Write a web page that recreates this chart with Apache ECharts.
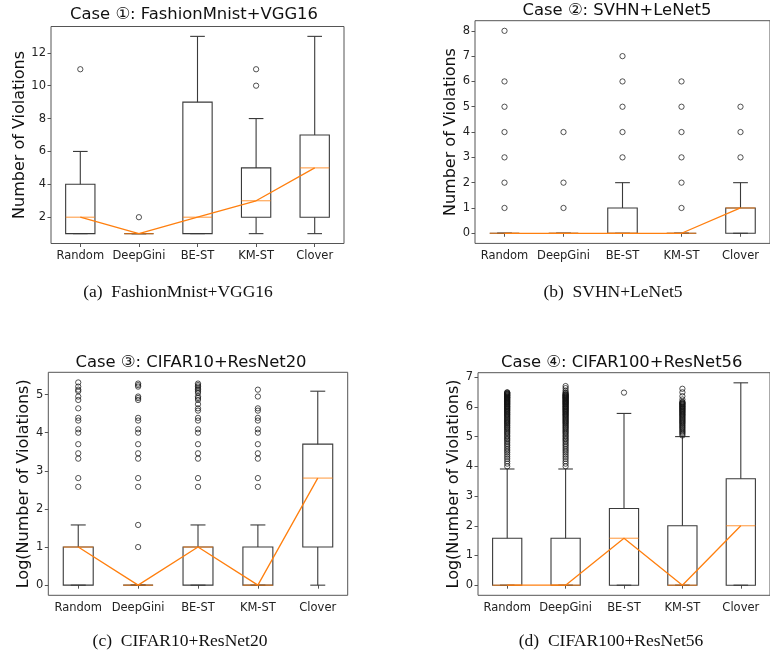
<!DOCTYPE html>
<html>
<head>
<meta charset="utf-8">
<script src="https://cdn.jsdelivr.net/npm/echarts@6/dist/echarts.min.js"></script>
<style>
  html, body { margin: 0; padding: 0; background: #ffffff; }
  #chart { width: 770px; height: 656px; }
</style>
</head>
<body>
<div id="chart"></div>
<script>
// Test-selection strategies compared in every case
const categories = ['Random', 'DeepGini', 'BE-ST', 'KM-ST', 'Clover'];

// Box statistics per strategy: [lower whisker, Q1, median, Q3, upper whisker]
const case1Stats = [[1, 1, 2, 4, 6], [1, 1, 1, 1, 1], [1, 1, 2, 9, 13], [1, 2, 3, 5, 8], [1, 2, 5, 7, 13]];
const case1Outliers = [[11], [2], [], [10, 11], []];

const case2Stats = [[0, 0, 0, 0, 0], [0, 0, 0, 0, 0], [0, 0, 0, 1, 2], [0, 0, 0, 0, 0], [0, 0, 1, 1, 2]];
const case2Outliers = [[1, 2, 3, 4, 5, 6, 8], [1, 2, 4], [3, 4, 5, 6, 7], [1, 2, 3, 4, 5, 6], [3, 4, 5]];

const case3Stats = [[0, 0, 1, 1, 1.58], [0, 0, 0, 0, 0], [0, 0, 1, 1, 1.58], [0, 0, 0, 1, 1.58], [0, 1, 2.81, 3.70, 5.09]];
const case3Outliers = [
  [5.32, 5.21, 5.13, 5.09, 4.95, 4.86, 4.64, 4.39, 4.32, 4.09, 4.00, 3.70, 3.46, 3.32, 2.81, 2.58],
  [5.29, 5.25, 5.21, 4.95, 4.91, 4.86, 4.39, 4.32, 4.09, 4.00, 3.70, 3.46, 3.32, 2.81, 2.58, 1.58, 1.00],
  [5.29, 5.25, 5.21, 5.17, 5.13, 5.09, 5.04, 4.95, 4.91, 4.86, 4.75, 4.64, 4.58, 4.39, 4.32, 4.09, 4.00, 3.70, 3.46, 3.32, 2.81, 2.58],
  [5.13, 4.95, 4.64, 4.58, 4.39, 4.32, 4.09, 4.00, 3.70, 3.46, 3.32, 2.81, 2.58],
  []
];

const case4Stats = [[0, 0, 0, 1.58, 3.91], [0, 0, 0, 1.58, 3.91], [0, 0, 1.58, 2.58, 5.78], [0, 0, 0, 2.00, 5.00], [0, 0, 2.00, 3.58, 6.81]];
const case4Outliers = [
  [4.00, 4.09, 4.17, 4.25, 4.32, 4.39, 4.46, 4.52, 4.58, 4.64, 4.70, 4.75, 4.81, 4.86, 4.91, 4.95,
   5.00, 5.04, 5.09, 5.13, 5.17, 5.21, 5.25, 5.29, 5.32, 5.36, 5.39, 5.43, 5.46, 5.49, 5.52, 5.55,
   5.58, 5.61, 5.64, 5.67, 5.70, 5.73, 5.75, 5.78, 5.81, 5.83, 5.86, 5.88, 5.91, 5.93, 5.95, 5.98,
   6.00, 6.02, 6.04, 6.07, 6.09, 6.11, 6.13, 6.15, 6.17, 6.19, 6.21, 6.23, 6.25, 6.27, 6.29, 6.31,
   6.32, 6.34, 6.36, 6.38, 6.39, 6.41, 6.43, 6.44, 6.46, 6.48, 6.49],
  [4.00, 4.09, 4.17, 4.25, 4.32, 4.39, 4.46, 4.52, 4.58, 4.64, 4.70, 4.75, 4.81, 4.86, 4.91, 4.95,
   5.00, 5.04, 5.09, 5.13, 5.17, 5.21, 5.25, 5.29, 5.32, 5.36, 5.39, 5.43, 5.46, 5.49, 5.52, 5.55,
   5.58, 5.61, 5.64, 5.67, 5.70, 5.73, 5.75, 5.78, 5.81, 5.83, 5.86, 5.88, 5.91, 5.93, 5.95, 5.98,
   6.00, 6.02, 6.04, 6.07, 6.09, 6.11, 6.13, 6.15, 6.17, 6.19, 6.21, 6.23, 6.25, 6.27, 6.29, 6.31,
   6.32, 6.34, 6.36, 6.38, 6.39, 6.41, 6.43, 6.46, 6.49, 6.55, 6.63, 6.70],
  [6.48],
  [5.04, 5.09, 5.13, 5.17, 5.21, 5.25, 5.29, 5.32, 5.36, 5.39, 5.43, 5.46, 5.49, 5.52, 5.55, 5.58,
   5.61, 5.64, 5.67, 5.70, 5.73, 5.75, 5.78, 5.81, 5.83, 5.86, 5.88, 5.91, 5.93, 5.95, 5.98, 6.00,
   6.02, 6.04, 6.07, 6.09, 6.11, 6.13, 6.15, 6.17, 6.25, 6.36, 6.49, 6.61],
  []
];

// Y tick labels per case
const case1Ticks = [2, 4, 6, 8, 10, 12];
const case2Ticks = [0, 1, 2, 3, 4, 5, 6, 7, 8];
const case3Ticks = [0, 1, 2, 3, 4, 5];
const case4Ticks = [0, 1, 2, 3, 4, 5, 6, 7];

const panelTitles = ['Case \u2460: FashionMnist+VGG16', 'Case \u2461: SVHN+LeNet5', 'Case \u2462: CIFAR10+ResNet20', 'Case \u2463: CIFAR100+ResNet56'];
const panelCaptions = ['(a)\u2002FashionMnist+VGG16', '(b)\u2002SVHN+LeNet5', '(c)\u2002CIFAR10+ResNet20', '(d)\u2002CIFAR100+ResNet56'];
const yAxisNames = ['Number of Violations', 'Number of Violations', 'Log(Number of Violations)', 'Log(Number of Violations)'];

const SANS = 'DejaVu Sans';
const SERIF = 'Liberation Serif';
const ORANGE = '#ff7f0e';
const BOX = '#3a3a3a';
const FRAME = '#555555';

const panels = [
  { stats: case1Stats, outliers: case1Outliers, ticks: case1Ticks,
    grid: { left: 51, top: 26.5, width: 293, height: 217 }, nameGap: 22,
    title: [194, 15], caption: [178, 292] },
  { stats: case2Stats, outliers: case2Outliers, ticks: case2Ticks,
    grid: { left: 475, top: 20.7, width: 299, height: 222.7 }, nameGap: 16,
    title: [617, 10.5], caption: [613, 292] },
  { stats: case3Stats, outliers: case3Outliers, ticks: case3Ticks,
    grid: { left: 48.3, top: 372.3, width: 299.4, height: 223 }, nameGap: 15,
    title: [191, 362.7], caption: [180, 641.5] },
  { stats: case4Stats, outliers: case4Outliers, ticks: case4Ticks,
    grid: { left: 478, top: 372.7, width: 298.5, height: 222.6 }, nameGap: 15,
    title: [621.7, 362.7], caption: [611, 641.5] }
];

// Auto-scaled value range with a 5% margin on both ends
function valueRange(stats, outliers) {
  let lo = Infinity, hi = -Infinity;
  stats.forEach(s => { lo = Math.min(lo, s[0]); hi = Math.max(hi, s[4]); });
  outliers.forEach(list => list.forEach(v => { lo = Math.min(lo, v); hi = Math.max(hi, v); }));
  const pad = (hi - lo) * 0.05;
  return [lo - pad, hi + pad];
}

function renderBox(params, api) {
  const idx = api.value(0);
  const lo = api.value(1), q1 = api.value(2), med = api.value(3), q3 = api.value(4), hi = api.value(5);
  const band = api.size([1, 0])[0];
  const x = api.coord([idx, med])[0];
  const hb = band * 0.25, hc = band * 0.125;
  const yLo = api.coord([idx, lo])[1];
  const yQ1 = api.coord([idx, q1])[1];
  const yMed = api.coord([idx, med])[1];
  const yQ3 = api.coord([idx, q3])[1];
  const yHi = api.coord([idx, hi])[1];
  const stroke = { stroke: BOX, lineWidth: 1.1, fill: null };
  return {
    type: 'group',
    children: [
      { type: 'polygon', shape: { points: [[x - hb, yQ1], [x + hb, yQ1], [x + hb, yQ3], [x - hb, yQ3]] }, style: stroke },
      { type: 'line', shape: { x1: x, y1: yQ1, x2: x, y2: yLo }, style: stroke },
      { type: 'line', shape: { x1: x, y1: yQ3, x2: x, y2: yHi }, style: stroke },
      { type: 'line', shape: { x1: x - hc, y1: yLo, x2: x + hc, y2: yLo }, style: stroke },
      { type: 'line', shape: { x1: x - hc, y1: yHi, x2: x + hc, y2: yHi }, style: stroke },
      { type: 'line', shape: { x1: x - hb, y1: yMed, x2: x + hb, y2: yMed }, style: { stroke: ORANGE, lineWidth: 1.1, opacity: 0.75 } }
    ]
  };
}

const grids = [], xAxes = [], yAxes = [], series = [], graphics = [];

panels.forEach((p, k) => {
  grids.push(Object.assign({ show: true, borderColor: FRAME, borderWidth: 1, backgroundColor: 'transparent' }, p.grid));
  xAxes.push({
    type: 'category', gridIndex: k, data: categories, boundaryGap: true,
    axisLine: { show: false },
    axisTick: { show: true, alignWithLabel: true, interval: 0, length: 3.5, lineStyle: { color: FRAME, width: 1 } },
    axisLabel: { interval: 0, hideOverlap: false, fontFamily: SANS, fontSize: 11.5, color: '#222', margin: 6.5 },
    splitLine: { show: false }
  });
  const range = valueRange(p.stats, p.outliers);
  yAxes.push({
    type: 'value', gridIndex: k, min: range[0], max: range[1],
    name: yAxisNames[k], nameLocation: 'middle', nameRotate: 90, nameGap: p.nameGap,
    nameTextStyle: { fontFamily: SANS, fontSize: 16, color: '#111' },
    axisLine: { show: false },
    axisTick: { show: true, length: 3.5, customValues: p.ticks, lineStyle: { color: FRAME, width: 1 } },
    axisLabel: { fontFamily: SANS, fontSize: 11.5, color: '#222', margin: 5, customValues: p.ticks },
    splitLine: { show: false }
  });
  series.push({
    type: 'custom', xAxisIndex: k, yAxisIndex: k,
    renderItem: renderBox,
    encode: { x: 0, y: [1, 2, 3, 4, 5] },
    data: p.stats.map((s, i) => [i].concat(s)),
    z: 2, silent: true
  });
  const pts = [];
  p.outliers.forEach((list, i) => list.forEach(v => pts.push([categories[i], v])));
  series.push({
    type: 'scatter', xAxisIndex: k, yAxisIndex: k, data: pts,
    symbol: 'circle', symbolSize: 5.3,
    itemStyle: { color: 'rgba(0,0,0,0)', borderColor: '#111', borderWidth: 0.9 },
    z: 3, silent: true
  });
  series.push({
    type: 'line', xAxisIndex: k, yAxisIndex: k,
    data: p.stats.map(s => s[2]),
    symbol: 'none', lineStyle: { color: ORANGE, width: 1.3 },
    z: 4, silent: true
  });
  graphics.push({
    type: 'text', x: p.title[0], y: p.title[1],
    style: { text: panelTitles[k], font: '16.4px "' + SANS + '"', fill: '#111', align: 'center', verticalAlign: 'middle' }
  });
  graphics.push({
    type: 'text', x: p.caption[0], y: p.caption[1],
    style: { text: panelCaptions[k], font: '17.5px "' + SERIF + '"', fill: '#111', align: 'center', verticalAlign: 'middle' }
  });
});

const chart = echarts.init(document.getElementById('chart'), null, { renderer: 'canvas' });
chart.setOption({
  animation: false,
  backgroundColor: '#ffffff',
  grid: grids,
  xAxis: xAxes,
  yAxis: yAxes,
  series: series,
  graphic: graphics
});
</script>
</body>
</html>
